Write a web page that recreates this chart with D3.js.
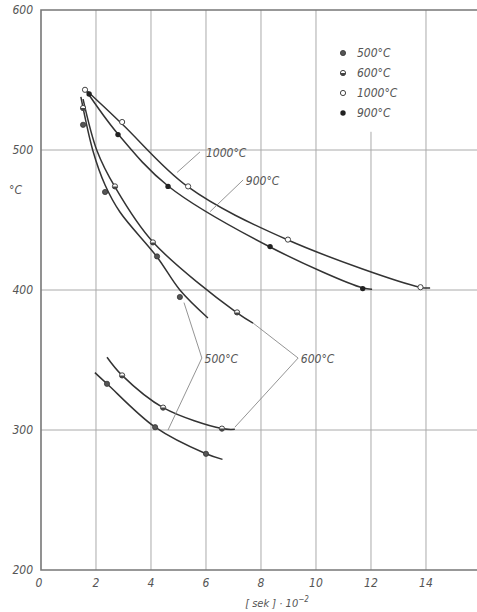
<!DOCTYPE html>
<html>
<head>
<meta charset="utf-8">
<script src="https://cdn.jsdelivr.net/npm/d3@7"></script>
<style>
  body { margin: 0; background: #fff; }
  text { font-family: "DejaVu Sans Condensed", "DejaVu Sans", sans-serif; font-style: italic; fill: #555; }
</style>
</head>
<body>
<script>
// Cooling curves

// x in [sek]*10^-2, y in °C
const xTicks = [0, 2, 4, 6, 8, 10, 12, 14];
const yTicks = [200, 300, 400, 500, 600];

const t1000 = [[1.6, 543], [2.95, 520], [5.35, 474], [8.98, 436], [13.8, 402]];
const c1000 = [[1.6, 543.6], [2.95, 518.6], [5.35, 473.6], [8.98, 435.7], [13.78, 402], [14.15, 401.4]];

const t900 = [[1.75, 540], [2.8, 511], [4.62, 474], [8.33, 431], [11.7, 401]];
const c900 = [[1.6, 543.6], [2.8, 511.4], [4.62, 474.3], [8.33, 430.7], [11.71, 401.4], [12.04, 400.6]];

const t600a = [[1.53, 530], [2.69, 474], [4.07, 434], [7.13, 384]];
const c600a = [[1.53, 536.4], [2.04, 499.3], [2.69, 473.6], [4.07, 434.3], [7.13, 383.6], [7.71, 376.4]];

const t500a = [[1.53, 518], [2.33, 470], [4.22, 424], [5.05, 395]];
const c500a = [[1.45, 537.9], [1.89, 499.3], [2.33, 475], [2.87, 455.7], [4.22, 423.6], [5.05, 400], [6.07, 380]];

const t600b = [[2.95, 339], [4.44, 316], [6.58, 301]];
const c600b = [[2.4, 352], [2.95, 339], [4.44, 316], [6.58, 301], [7.05, 300.5]];

const t500b = [[2.4, 333], [4.15, 302], [6.0, 283]];
const c500b = [[1.96, 341], [2.4, 333], [4.15, 302], [6.0, 283], [6.6, 279]];

const legendNames = ["500°C", "600°C", "1000°C", "900°C"];

// leader lines and labels (data coords)
const labels = [
  { text: "1000°C", at: [6.0, 498], lines: [[[4.95, 484], [5.78, 498.6]]] },
  { text: "900°C", at: [7.45, 478], lines: [[[6.15, 456], [7.35, 478.6]]] },
  { text: "500°C", at: [5.95, 351], lines: [[[5.2, 391], [5.85, 351.4], [4.62, 300]]] },
  { text: "600°C", at: [9.45, 351], lines: [[[7.71, 376.4], [9.35, 351.4], [7.05, 302]]] }
];

const width = 477, height = 612;
const x = d3.scaleLinear().domain([0, 15.855]).range([41, 477]);
const y = d3.scaleLinear().domain([200, 600]).range([570, 10]);

const svg = d3.select("body").append("svg")
  .attr("width", width)
  .attr("height", height);

// grid
svg.append("g")
  .selectAll("line")
  .data(xTicks.slice(1))
  .join("line")
  .attr("x1", d => x(d)).attr("x2", d => x(d))
  .attr("y1", y(200))
  .attr("y2", d => d === 12 ? y(513) : y(600))
  .attr("stroke", "#aaa").attr("stroke-width", 1);

svg.append("g")
  .selectAll("line")
  .data([300, 400, 500])
  .join("line")
  .attr("x1", x(0)).attr("x2", width)
  .attr("y1", d => y(d)).attr("y2", d => y(d))
  .attr("stroke", "#aaa").attr("stroke-width", 1);

// frame: left, bottom, top
svg.append("path")
  .attr("d", `M${width},${y(600)}H${x(0)}V${y(200)}H${width}`)
  .attr("fill", "none").attr("stroke", "#777").attr("stroke-width", 1.6);

// tick labels
svg.append("g")
  .selectAll("text")
  .data(yTicks)
  .join("text")
  .attr("x", 33).attr("y", d => y(d) + 4)
  .attr("text-anchor", "end")
  .attr("font-size", 12)
  .text(d => d);

svg.append("g")
  .selectAll("text")
  .data(xTicks)
  .join("text")
  .attr("x", d => x(d) + (d === 0 ? -2 : 0)).attr("y", 587)
  .attr("text-anchor", "middle")
  .attr("font-size", 12)
  .text(d => d);

svg.append("text")
  .attr("x", 9).attr("y", 194)
  .attr("font-size", 12)
  .text("°C");

const xt = svg.append("text")
  .attr("x", 277).attr("y", 607)
  .attr("text-anchor", "middle")
  .attr("font-size", 11);
xt.append("tspan").text("[ sek ] · 10");
xt.append("tspan").attr("dy", -5).attr("font-size", 8).text("−2");

// curves
const line = d3.line()
  .x(d => x(d[0]))
  .y(d => y(d[1]))
  .curve(d3.curveCatmullRom.alpha(0.5));

[c1000, c900, c600a, c500a, c600b, c500b].forEach(c => {
  svg.append("path")
    .datum(c)
    .attr("fill", "none")
    .attr("stroke", "#333")
    .attr("stroke-width", 1.5)
    .attr("d", line);
});

// leader lines + labels
const leader = d3.line().x(d => x(d[0])).y(d => y(d[1]));
labels.forEach(l => {
  l.lines.forEach(p => {
    svg.append("path")
      .datum(p)
      .attr("fill", "none")
      .attr("stroke", "#888")
      .attr("stroke-width", 0.9)
      .attr("d", leader);
  });
  svg.append("text")
    .attr("x", x(l.at[0])).attr("y", y(l.at[1]) + 4)
    .attr("font-size", 12)
    .text(l.text);
});

// markers
function marker(g, kind, cx, cy) {
  if (kind === "open") {
    g.append("circle").attr("cx", cx).attr("cy", cy).attr("r", 2.6)
      .attr("fill", "#fff").attr("stroke", "#444").attr("stroke-width", 1);
  } else if (kind === "half") {
    g.append("circle").attr("cx", cx).attr("cy", cy).attr("r", 2.6)
      .attr("fill", "#fff").attr("stroke", "#444").attr("stroke-width", 1);
    g.append("path")
      .attr("d", `M${cx - 2.6},${cy}A2.6,2.6 0 0 0 ${cx + 2.6},${cy}Z`)
      .attr("fill", "#444");
  } else if (kind === "grey") {
    g.append("circle").attr("cx", cx).attr("cy", cy).attr("r", 2.6)
      .attr("fill", "#555").attr("stroke", "#333").attr("stroke-width", 0.8);
  } else {
    g.append("circle").attr("cx", cx).attr("cy", cy).attr("r", 2.7)
      .attr("fill", "#222");
  }
}

const pts = svg.append("g");
[[t1000, "open"], [t900, "solid"], [t600a, "half"], [t600b, "half"], [t500a, "grey"], [t500b, "grey"]]
  .forEach(([arr, kind]) => arr.forEach(d => marker(pts, kind, x(d[0]), y(d[1]))));

// legend
const kinds = ["grey", "half", "open", "solid"];
const lg = svg.append("g");
legendNames.forEach((n, i) => {
  marker(lg, kinds[i], 343, 53 + i * 20);
  lg.append("text")
    .attr("x", 357).attr("y", 53 + i * 20 + 4)
    .attr("font-size", 12)
    .text(n);
});
</script>
</body>
</html>
